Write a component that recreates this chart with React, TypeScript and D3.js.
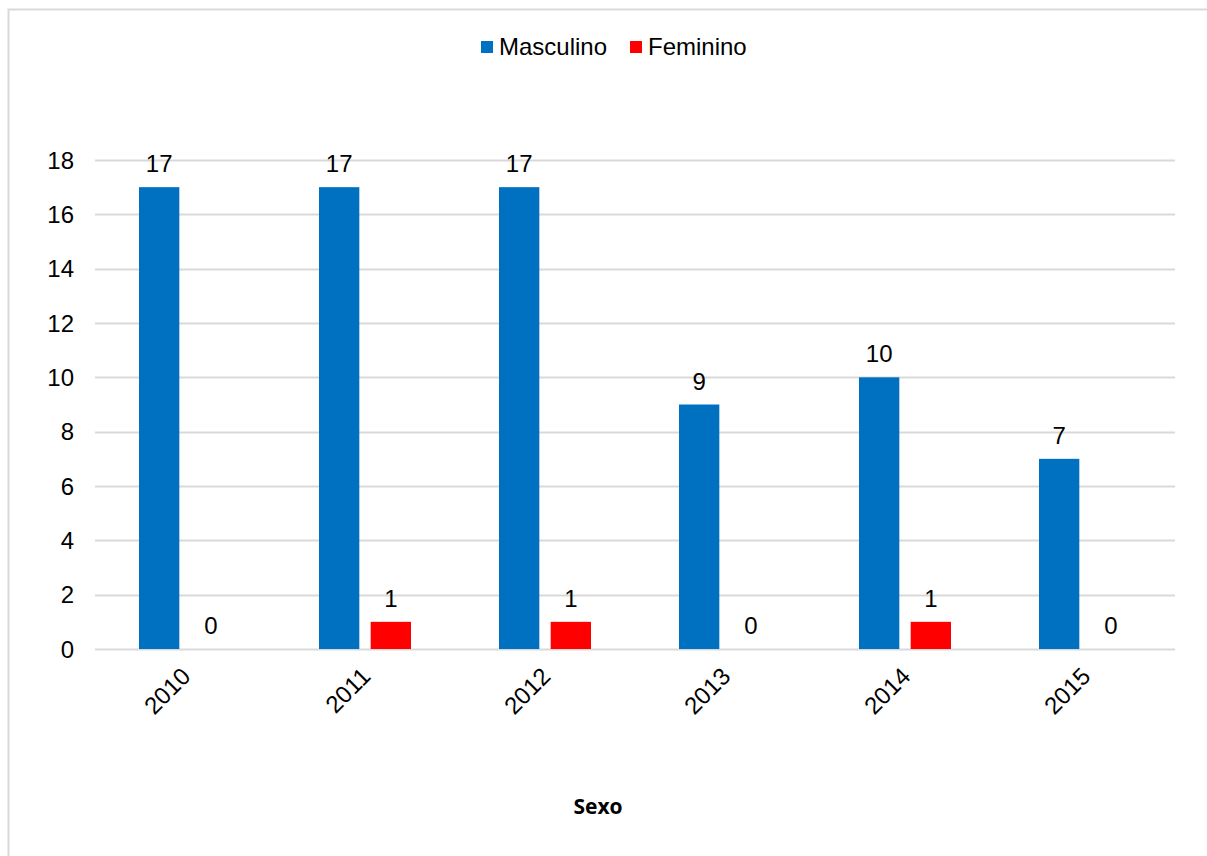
import React, { useEffect, useRef } from "react";
import * as d3 from "d3";

const years = ["2010", "2011", "2012", "2013", "2014", "2015"];
const masculino = [17, 17, 17, 9, 10, 7];
const feminino = [0, 1, 1, 0, 1, 0];
const seriesNames = ["Masculino", "Feminino"];
const yTicks = [0, 2, 4, 6, 8, 10, 12, 14, 16, 18];

const W = 1207;
const H = 856;
const colors = ["#0070C0", "#FF0000"];
const font = "'Liberation Sans', Arial, sans-serif";

export default function App() {
  const ref = useRef<SVGSVGElement>(null);

  useEffect(() => {
    const svg = d3.select(ref.current);
    svg.selectAll("*").remove();

    // outer frame
    svg.append("rect")
      .attr("x", 8.5).attr("y", 9.5)
      .attr("width", W).attr("height", H)
      .attr("fill", "#fff").attr("stroke", "#D9D9D9").attr("stroke-width", 2);

    const left = 95, right = 1175, top = 160, bottom = 649;
    const x = d3.scaleBand().domain(years).range([left, right]);
    const y = d3.scaleLinear().domain([0, 18]).range([bottom, top]);
    const inner = d3.scaleBand().domain(seriesNames).range([44, 136]).paddingInner(0.22);

    // gridlines
    svg.append("g").selectAll("line").data(yTicks).join("line")
      .attr("x1", left).attr("x2", right)
      .attr("y1", d => Math.round(y(d)) + 0.5).attr("y2", d => Math.round(y(d)) + 0.5)
      .attr("stroke", "#D9D9D9").attr("stroke-width", 2);

    // y labels
    svg.append("g").selectAll("text").data(yTicks).join("text")
      .attr("x", 74).attr("y", d => y(d))
      .attr("dy", "0.36em").attr("text-anchor", "end")
      .attr("font-family", font).attr("font-size", 24)
      .text(d => d);

    const data = [masculino, feminino];
    data.forEach((vals, si) => {
      const g = svg.append("g");
      g.selectAll("rect").data(vals).join("rect")
        .attr("x", (d, i) => x(years[i])! + inner(seriesNames[si])!)
        .attr("width", inner.bandwidth())
        .attr("y", d => y(d))
        .attr("height", d => y(0) - y(d))
        .attr("fill", colors[si]);
      g.selectAll("text").data(vals).join("text")
        .attr("x", (d, i) => x(years[i])! + inner(seriesNames[si])! + inner.bandwidth() / 2)
        .attr("y", d => y(d) - 15)
        .attr("text-anchor", "middle")
        .attr("font-family", font).attr("font-size", 24)
        .text(d => d);
    });

    // x labels
    svg.append("g").selectAll("text").data(years).join("text")
      .attr("transform", d => `translate(${x(d)! + x.bandwidth() / 2 - 5},${bottom + 17}) rotate(-45)`)
      .attr("text-anchor", "end").attr("dy", "0.7em")
      .attr("font-family", font).attr("font-size", 24)
      .text(d => d);

    // legend
    const legendPos = [481, 630];
    seriesNames.forEach((n, i) => {
      svg.append("rect")
        .attr("x", legendPos[i]).attr("y", 41)
        .attr("width", 12).attr("height", 12)
        .attr("fill", colors[i]);
      svg.append("text")
        .attr("x", legendPos[i] + 18).attr("y", 55)
        .attr("font-family", font).attr("font-size", 24)
        .text(n);
    });

    // axis title
    svg.append("text")
      .attr("x", 598).attr("y", 814)
      .attr("text-anchor", "middle")
      .attr("font-family", "'Open Sans', 'Noto Sans', sans-serif")
      .attr("font-weight", "bold").attr("font-size", 21)
      .text("Sexo");
  }, []);

  return (
    <div style={{ position: "absolute", left: 0, top: 0 }}>
      <svg ref={ref} width={W} height={H} style={{ display: "block" }} />
    </div>
  );
}
